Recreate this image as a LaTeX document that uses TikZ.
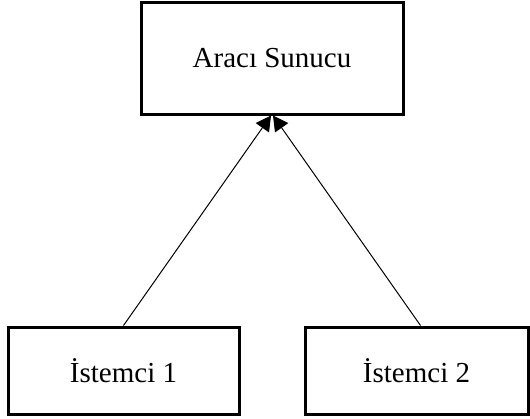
\documentclass[tikz,border=0pt]{standalone}
\usepackage{fontspec}
\setmainfont{Liberation Serif}
\usetikzlibrary{arrows.meta, positioning}

\begin{document}
\begin{tikzpicture}[
  x=0.5pt, y=-0.5pt,
  box/.style = {rectangle, draw, line width=1.5pt, text centered, font=\fontsize{14.5}{17}\selectfont},
  >={Triangle[length=7.5pt, width=8pt]}
  ]
  \useasboundingbox (0,0) rectangle (530,418);

  % Noeuds
  \node[box, minimum width=131pt, minimum height=56pt] (server) at (272,58) {Aracı Sunucu};
  \node[box, minimum width=115.5pt, minimum height=43.5pt] (client1) at (123.5,370.5) {İstemci 1};
  \node[box, minimum width=111.5pt, minimum height=43.5pt] (client2) at (416.5,370.5) {İstemci 2};

  % Flèches
  \draw[->, line width=0.5pt] (client1.north) -- ([xshift=-0.5pt]server.south);
  \draw[->, line width=0.5pt] ([xshift=2pt]client2.north) -- ([xshift=0.5pt]server.south);

\end{tikzpicture}
\end{document}
